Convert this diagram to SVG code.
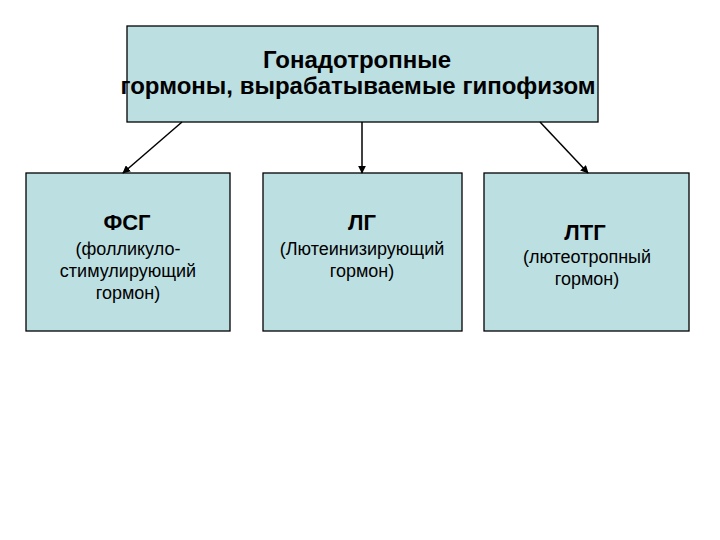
<svg xmlns="http://www.w3.org/2000/svg" width="720" height="540" viewBox="0 0 720 540">
<defs>
<marker id="ah" viewBox="0 0 10 10" refX="9" refY="5" markerWidth="8" markerHeight="8" orient="auto" markerUnits="userSpaceOnUse"><path d="M0,0 L10,5 L0,10 z" fill="#000"/></marker>
<style>
.box{fill:#bcdfe2;stroke:#000;stroke-width:1.3}
.t{font-family:"Liberation Sans",Arial,sans-serif;fill:#000;text-anchor:middle}
.h{font-weight:bold;font-size:22px}
.ti{font-weight:bold;font-size:24px}
.s{font-size:18px}
.c{stroke:#000;stroke-width:1.5;fill:none;marker-end:url(#ah)}
</style>
</defs>
<rect width="720" height="540" fill="#fff"/>
<g id="top">
<rect class="box" x="127" y="26" width="471" height="96"/>
<text class="t ti" x="357" y="68">Гонадотропные</text>
<text class="t ti" x="358" y="94">гормоны, вырабатываемые гипофизом</text>
</g>
<g id="fsg">
<rect class="box" x="26" y="173" width="204" height="158"/>
<text class="t h" x="127" y="230">ФСГ</text>
<text class="t s" x="128" y="255">(фолликуло-</text>
<text class="t s" x="128" y="277">стимулирующий</text>
<text class="t s" x="128" y="299">гормон)</text>
</g>
<g id="lg">
<rect class="box" x="263" y="173" width="199" height="158"/>
<text class="t h" x="362" y="230">ЛГ</text>
<text class="t s" x="362" y="255">(Лютеинизирующий</text>
<text class="t s" x="362" y="277">гормон)</text>
</g>
<g id="ltg">
<rect class="box" x="484" y="173" width="205" height="158"/>
<text class="t h" x="585" y="240">ЛТГ</text>
<text class="t s" x="587" y="263">(лютеотропный</text>
<text class="t s" x="587" y="285">гормон)</text>
</g>
<g id="connectors">
<line class="c" x1="182" y1="122" x2="123" y2="173"/>
<line class="c" x1="362" y1="122" x2="362" y2="173"/>
<line class="c" x1="540" y1="122" x2="588" y2="173"/>
</g>
</svg>
